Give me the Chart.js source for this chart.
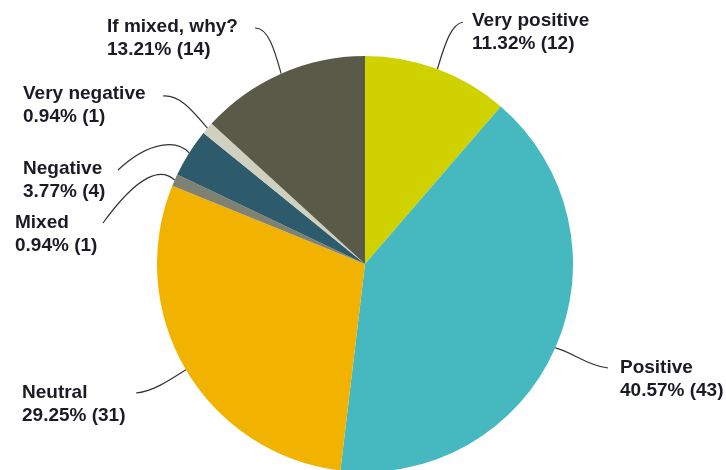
<!DOCTYPE html>
<html>
<head>
<meta charset="utf-8">
<script src="https://cdn.jsdelivr.net/npm/chart.js@4/dist/chart.umd.min.js"></script>
<style>
  html, body { margin: 0; padding: 0; background: #fff; }
  #wrap { width: 726px; height: 470px; }
</style>
</head>
<body>
<div id="wrap"><canvas id="pieChart" width="726" height="470"></canvas></div>
<script>
const labels = ['Very positive', 'Positive', 'Neutral', 'Mixed', 'Negative', 'Very negative', 'If mixed, why?'];
const counts = [12, 43, 31, 1, 4, 1, 14];
const percents = ['11.32%', '40.57%', '29.25%', '0.94%', '3.77%', '0.94%', '13.21%'];
const COLORS = ['#D0D200', '#45B8C0', '#F2B200', '#7F8273', '#2E5B6B', '#D0D0C0', '#5A5A48'];

// where each label sits and how its leader line bends (x, y = first baseline)
const labelLayout = [
  { x: 472, y: 26,  from: [463, 22],  c1: [452, 24],  c2: [446, 40] },
  { x: 620, y: 373, from: [608, 368], c1: [588, 366], c2: [572, 352] },
  { x: 22,  y: 398, from: [136, 393], c1: [152, 392], c2: [170, 380] },
  { x: 15,  y: 228, from: [103, 223], c1: [140, 172], c2: [162, 168] },
  { x: 23,  y: 174, from: [118, 170], c1: [150, 140], c2: [178, 140] },
  { x: 23,  y: 99,  from: [163, 96],  c1: [180, 95],  c2: [192, 110] },
  { x: 107, y: 32,  from: [255, 28],  c1: [268, 28],  c2: [274, 48] }
];

const leaderLabels = {
  id: 'leaderLabels',
  afterDatasetsDraw(chart) {
    const ctx = chart.ctx;
    const arcs = chart.getDatasetMeta(0).data;
    ctx.save();
    arcs.forEach((arc, i) => {
      const L = labelLayout[i];
      const { x, y, startAngle, endAngle, outerRadius } = arc.getProps(['x', 'y', 'startAngle', 'endAngle', 'outerRadius'], true);
      const mid = (startAngle + endAngle) / 2;
      const ex = x + Math.cos(mid) * outerRadius;
      const ey = y + Math.sin(mid) * outerRadius;
      ctx.beginPath();
      ctx.moveTo(L.from[0], L.from[1]);
      ctx.bezierCurveTo(L.c1[0], L.c1[1], L.c2[0], L.c2[1], ex, ey);
      ctx.strokeStyle = '#333333';
      ctx.lineWidth = 1.2;
      ctx.stroke();

      ctx.fillStyle = '#1b1b26';
      ctx.font = 'bold 19px "Liberation Sans", Arial, sans-serif';
      ctx.textAlign = 'left';
      ctx.textBaseline = 'alphabetic';
      ctx.fillText(labels[i], L.x, L.y);
      ctx.fillText(`${percents[i]} (${counts[i]})`, L.x, L.y + 22.5);
    });
    ctx.restore();
  }
};

new Chart(document.getElementById('pieChart'), {
  type: 'pie',
  data: {
    labels: labels,
    datasets: [{ data: counts, backgroundColor: COLORS, borderWidth: 0, radius: 208, clip: false }]
  },
  options: {
    responsive: false,
    animation: false,
    layout: { padding: { left: 4, right: 0, top: 58, bottom: 0 } },
    plugins: { legend: { display: false }, tooltip: { enabled: false } }
  },
  plugins: [leaderLabels]
});
</script>
</body>
</html>
